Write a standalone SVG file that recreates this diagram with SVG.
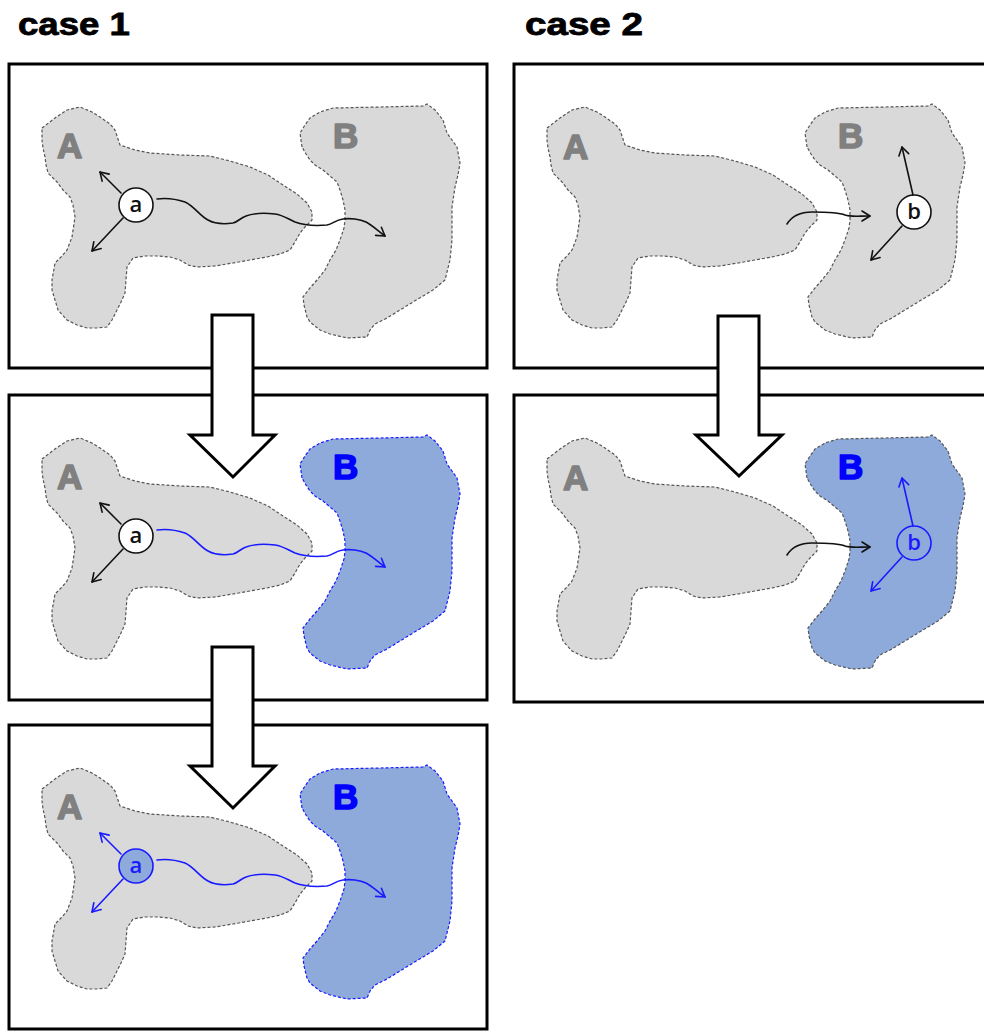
<svg xmlns="http://www.w3.org/2000/svg" xmlns:xlink="http://www.w3.org/1999/xlink" width="984" height="1032" viewBox="0 0 984 1032">
  <style>
    .title { font-family: "Liberation Sans", Arial, sans-serif; font-weight: 900; font-size: 31px; fill: #000; stroke: #000; stroke-width: 0.8; }
    .frame { fill: none; stroke: #000; stroke-width: 3; }
    .step { fill: #fff; stroke: #000; stroke-width: 3; stroke-linejoin: miter; }
    .region-grey { fill: #d9d9d9; stroke: #555; stroke-width: 1.2; stroke-dasharray: 3 2; }
    .region-blue { fill: #8eaadb; stroke: #1a1aff; stroke-width: 1.2; stroke-dasharray: 3 2; }
    .region-blue-grey { fill: #8eaadb; stroke: #555; stroke-width: 1.2; stroke-dasharray: 3 2; }
    .lbl { font-family: "Liberation Sans", Arial, sans-serif; font-weight: 700; font-size: 35px; stroke-width: 1.6; stroke-linejoin: round; }
    .lbl-grey { fill: #808080; stroke: #808080; }
    .lbl-blue { fill: #0000ff; stroke: #0000ff; }
    .pt { font-family: "Open Sans", "Liberation Sans", sans-serif; font-weight: 600; font-size: 22px; text-anchor: middle; }
    .k { fill: none; stroke: #111; stroke-width: 1.6; stroke-linecap: round; stroke-linejoin: round; marker-end: url(#headK); }
    .b { fill: none; stroke: #1a1aff; stroke-width: 1.6; stroke-linecap: round; stroke-linejoin: round; marker-end: url(#headB); }
  </style>
  <defs>
    <marker id="headK" markerUnits="userSpaceOnUse" markerWidth="14" markerHeight="14" refX="0" refY="0" viewBox="-10 -7 12 14" orient="auto">
      <path d="M-8,-5 L0,0 L-8,5" fill="none" stroke="#111" stroke-width="1.6" stroke-linecap="round" stroke-linejoin="round"/>
    </marker>
    <marker id="headB" markerUnits="userSpaceOnUse" markerWidth="14" markerHeight="14" refX="0" refY="0" viewBox="-10 -7 12 14" orient="auto">
      <path d="M-8,-5 L0,0 L-8,5" fill="none" stroke="#1a1aff" stroke-width="1.6" stroke-linecap="round" stroke-linejoin="round"/>
    </marker>
    <path id="shapeA" d="M42,128 L55,118 L67,110 L80,107 L92,112 L100,117 L110,124 L115,130 L120,145 L135,150 L150,153 L180,155 L210,156 L230,161 L250,167 L268,175 L283,185 L297,194 L307,203 L312,212 L312,220 L305,227 L300,233 L295,242 L290,250 L280,254 L267,257 L250,260 L233,263 L215,266 L197,267 L188,265 L180,260 L170,257 L157,256 L145,256 L133,258 L127,267 L126,280 L125,293 L121,302 L117,310 L112,320 L107,327 L97,328 L87,328 L77,325 L67,320 L58,310 L55,300 L52,290 L52,280 L55,263 L62,256 L67,250 L72,237 L75,217 L73,205 L70,197 L63,190 L57,182 L48,173 L46,165 L45,157 L43,148 L42,140 Z"/>
    <path id="shapeB" d="M302,147 L300,133 L305,125 L310,118 L320,112 L333,108 L380,107 L423,106 L427,104 L435,110 L443,120 L447,133 L452,140 L457,147 L460,163 L458,175 L455,187 L452,207 L452,240 L451,250 L450,260 L445,280 L433,290 L413,302 L400,310 L387,318 L375,324 L370,330 L367,337 L347,338 L330,334 L320,330 L310,322 L307,317 L304,305 L303,297 L310,288 L317,280 L325,270 L330,260 L336,250 L340,240 L344,228 L345,220 L345,210 L343,200 L340,190 L337,182 L330,176 L323,170 L315,165 L310,160 L306,154 Z"/>
    <path id="walkA" d="M157,199 C164,198 176,199 185,202 C194,206 200,216 208,220 C215,224 226,224 233,223 C238,222 240,218 246,216 C254,213 266,213 275,214 C283,215 288,219 295,222 C303,225 315,226 327,225 C333,224 335,220 343,219 C350,218 360,219 366,222 C372,225 378,231 385,236"/>
    <path id="walkB" d="M282,224 C287,216 295,212 307,212 C320,212 333,212 340,215 C345,217 353,216 365,216"/>
  </defs>

  <rect width="984" height="1032" fill="#fff"/>

  <!-- column headings -->
  <text class="title" x="18" y="35" textLength="112" lengthAdjust="spacingAndGlyphs">case 1</text>
  <text class="title" x="525" y="35" textLength="118" lengthAdjust="spacingAndGlyphs">case 2</text>

  <!-- case 1, step 1 -->
  <g id="case1-step1">
    <rect class="frame" x="9" y="64" width="478" height="304"/>
    <g id="c1s1-A"><use xlink:href="#shapeA" class="region-grey"/><text class="lbl lbl-grey" x="57" y="158">A</text></g>
    <g id="c1s1-B"><use xlink:href="#shapeB" class="region-grey"/><text class="lbl lbl-grey" x="333" y="148">B</text></g>
    <g id="c1s1-a"><circle cx="136" cy="205" r="17" fill="#fff" stroke="#111" stroke-width="1.6"/><text class="pt" x="136" y="212" fill="#111">a</text></g>
  </g>

  <!-- case 1, step 2 -->
  <g id="case1-step2">
    <rect class="frame" x="9" y="395" width="478" height="305"/>
    <g transform="translate(0,331)">
      <g id="c1s2-A"><use xlink:href="#shapeA" class="region-grey"/><text class="lbl lbl-grey" x="57" y="158">A</text></g>
      <g id="c1s2-B"><use xlink:href="#shapeB" class="region-blue"/><text class="lbl lbl-blue" x="333" y="148">B</text></g>
      <g id="c1s2-a"><circle cx="136" cy="205" r="17" fill="#fff" stroke="#111" stroke-width="1.6"/><text class="pt" x="136" y="212" fill="#111">a</text></g>
    </g>
  </g>

  <!-- case 1, step 3 -->
  <g id="case1-step3">
    <rect class="frame" x="9" y="725" width="478" height="304"/>
    <g transform="translate(0,661)">
      <g id="c1s3-A"><use xlink:href="#shapeA" class="region-grey"/><text class="lbl lbl-grey" x="57" y="158">A</text></g>
      <g id="c1s3-B"><use xlink:href="#shapeB" class="region-blue"/><text class="lbl lbl-blue" x="333" y="148">B</text></g>
      <g id="c1s3-a"><circle cx="136" cy="205" r="17" fill="#8eaadb" stroke="#1a1aff" stroke-width="1.6"/><text class="pt" x="136" y="212" fill="#1a1aff">a</text></g>
    </g>
  </g>

  <!-- case 2, step 1 -->
  <g id="case2-step1">
    <rect class="frame" x="514" y="64" width="478" height="304"/>
    <g transform="translate(505,0)">
      <g id="c2s1-A"><use xlink:href="#shapeA" class="region-grey"/><text class="lbl lbl-grey" x="58" y="159">A</text></g>
      <g id="c2s1-B"><use xlink:href="#shapeB" class="region-grey"/><text class="lbl lbl-grey" x="333" y="148">B</text></g>
      <g id="c2s1-b"><circle cx="409" cy="212" r="17" fill="#fff" stroke="#111" stroke-width="1.6"/><text class="pt" x="409" y="219" fill="#111">b</text></g>
    </g>
  </g>

  <!-- case 2, step 2 -->
  <g id="case2-step2">
    <rect class="frame" x="514" y="395" width="478" height="307"/>
    <g transform="translate(505,331)">
      <g id="c2s2-A"><use xlink:href="#shapeA" class="region-grey"/><text class="lbl lbl-grey" x="58" y="159">A</text></g>
      <g id="c2s2-B"><use xlink:href="#shapeB" class="region-blue-grey"/><text class="lbl lbl-blue" x="333" y="148">B</text></g>
      <g id="c2s2-b"><circle cx="409" cy="212" r="17" fill="none" stroke="#1a1aff" stroke-width="1.6"/><text class="pt" x="409" y="219" fill="#1a1aff">b</text></g>
    </g>
  </g>

  <!-- connectors: walks, spreading arrows and step arrows -->
  <g id="connectors">
    <!-- case 1, step 1 -->
    <use xlink:href="#walkA" class="k"/>
    <line class="k" x1="121" y1="193" x2="100" y2="172"/>
    <line class="k" x1="123" y1="218" x2="92" y2="251"/>
    <!-- case 1, step 2 -->
    <g transform="translate(0,331)">
      <use xlink:href="#walkA" class="b"/>
      <line class="k" x1="121" y1="193" x2="100" y2="172"/>
      <line class="k" x1="123" y1="218" x2="92" y2="251"/>
    </g>
    <!-- case 1, step 3 -->
    <g transform="translate(0,661)">
      <use xlink:href="#walkA" class="b"/>
      <line class="b" x1="121" y1="193" x2="100" y2="172"/>
      <line class="b" x1="123" y1="218" x2="92" y2="251"/>
    </g>
    <!-- case 2, step 1 -->
    <g transform="translate(505,0)">
      <use xlink:href="#walkB" class="k"/>
      <line class="k" x1="408" y1="195" x2="397" y2="147"/>
      <line class="k" x1="397" y1="226" x2="366" y2="260"/>
    </g>
    <!-- case 2, step 2 -->
    <g transform="translate(505,331)">
      <use xlink:href="#walkB" class="k"/>
      <line class="b" x1="408" y1="195" x2="397" y2="147"/>
      <line class="b" x1="397" y1="226" x2="366" y2="260"/>
    </g>
    <!-- step arrows between panels -->
    <polygon class="step" points="212,315 253,315 253,435 275,435 233,477 190,435 212,435"/>
    <polygon class="step" points="212,647 253,647 253,766 275,766 233,808 190,766 212,766"/>
    <polygon class="step" points="718,316 759,316 759,435 782,435 739,476 696,435 718,435"/>
  </g>
</svg>
